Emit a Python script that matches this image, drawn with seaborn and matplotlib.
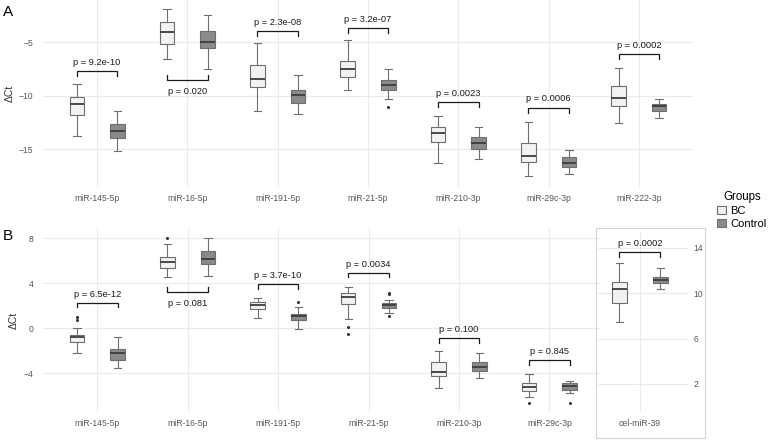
import numpy as np
import pandas as pd
import matplotlib
matplotlib.use("Agg")
import matplotlib.pyplot as plt
from matplotlib.patches import Rectangle
import seaborn as sns

# box summaries: (lower whisker, q1, median, q3, upper whisker)
mirs_a = ["miR-145-5p", "miR-16-5p", "miR-191-5p", "miR-21-5p", "miR-210-3p", "miR-29c-3p", "miR-222-3p"]
a_bc = [(-13.75, -11.8, -10.8, -10.1, -8.9), (-6.6, -5.2, -4.1, -3.16, -1.95),
        (-11.4, -9.2, -8.44, -7.14, -5.1), (-9.47, -8.3, -7.5, -6.8, -4.8),
        (-16.25, -14.3, -13.5, -12.95, -11.9), (-17.45, -16.2, -15.6, -14.44, -12.45),
        (-12.5, -11.0, -10.25, -9.07, -7.45)]
a_ctrl = [(-15.2, -13.9, -13.25, -12.6, -11.4), (-7.5, -5.55, -5.0, -4.0, -2.5),
          (-11.7, -10.65, -9.9, -9.47, -8.1), (-10.28, -9.47, -8.97, -8.56, -7.54),
          (-15.9, -14.94, -14.4, -13.85, -12.9), (-17.3, -16.6, -16.3, -15.7, -15.1),
          (-12.1, -11.4, -11.0, -10.8, -10.3)]
a_out = {("Control", "miR-21-5p"): ([-11.08], [])}
a_p = ["p = 9.2e-10", "p = 0.020", "p = 2.3e-08", "p = 3.2e-07", "p = 0.0023", "p = 0.0006", "p = 0.0002"]
a_bracket = [-7.67, -8.55, -3.97, -3.66, -10.6, -11.1, -6.14]
a_below = [False, True, False, False, False, False, False]

mirs_b = ["miR-145-5p", "miR-16-5p", "miR-191-5p", "miR-21-5p", "miR-210-3p", "miR-29c-3p"]
b_bc = [(-2.15, -1.22, -0.8, -0.57, 0.05), (4.52, 5.32, 5.85, 6.36, 7.48),
        (0.88, 1.68, 2.04, 2.36, 2.72), (0.83, 2.16, 2.8, 3.1, 3.64),
        (-5.33, -4.23, -3.85, -2.96, -2.01), (-6.07, -5.53, -5.18, -4.88, -4.06)]
b_ctrl = [(-3.5, -2.81, -2.16, -1.84, -0.8), (4.64, 5.68, 6.18, 6.89, 7.98),
          (-0.09, 0.7, 1.06, 1.3, 1.86), (1.35, 1.8, 2.07, 2.27, 2.51),
          (-4.44, -3.79, -3.4, -2.96, -2.16), (-5.77, -5.47, -5.12, -4.88, -4.65)]
b_out = {("BC", "miR-145-5p"): ([], [0.74, 1.03]), ("BC", "miR-16-5p"): ([], [8.0]),
         ("BC", "miR-21-5p"): ([-0.53, 0.09], []), ("BC", "miR-29c-3p"): ([-6.66], []),
         ("Control", "miR-191-5p"): ([], [2.36]), ("Control", "miR-21-5p"): ([1.05], [3.04, 3.16]),
         ("Control", "miR-29c-3p"): ([-6.6], [])}
b_p = ["p = 6.5e-12", "p = 0.081", "p = 3.7e-10", "p = 0.0034", "p = 0.100", "p = 0.845"]
b_bracket = [2.27, 3.25, 3.93, 4.93, -0.86, -2.81]
b_below = [False, True, False, False, False, False]

spike = ["cel-miR-39"]
spike_bc = [(7.5, 9.17, 10.4, 11.0, 12.7)]
spike_ctrl = [(10.35, 10.88, 11.17, 11.47, 12.2)]
spike_p = ["p = 0.0002"]
spike_bracket = [13.67]

groups = ["BC", "Control"]
pal = {"BC": "#f2f2f2", "Control": "#8a8a8a"}


def expand(stats, lo=(), hi=()):
    # 13 values whose quartiles and whiskers give back the read summary
    wl, q1, med, q3, wh = stats
    lo = sorted(lo)
    hi = sorted(hi)
    low = lo + [wl] * (3 - len(lo))
    up = [wh] * (3 - len(hi)) + hi
    return low + [q1, q1, med, med, med, q3, q3] + up


def frame(mirs, bc, ctrl, outs):
    rows = []
    for g, table in zip(groups, [bc, ctrl]):
        for m, st in zip(mirs, table):
            lo, hi = outs.get((g, m), ([], []))
            for v in expand(st, lo, hi):
                rows.append((m, g, v))
    return pd.DataFrame(rows, columns=["miRNA", "Groups", "dCt"])


df_a = frame(mirs_a, a_bc, a_ctrl, a_out)
df_b = frame(mirs_b, b_bc, b_ctrl, b_out)
df_s = frame(spike, spike_bc, spike_ctrl, {})

plt.rcParams["font.family"] = ["Liberation Sans", "DejaVu Sans"]

W, H = 771, 441
fig = plt.figure(figsize=(W / 100, H / 100), dpi=100)


def fax(x0, y0, x1, y1):
    return fig.add_axes([x0 / W, 1 - y1 / H, (x1 - x0) / W, (y1 - y0) / H])


ax_a = fax(43, 0, 693, 187)
ax_b = fax(43, 228, 600, 412)
ax_s = fax(598, 232, 688, 412)

box_kw = dict(x="miRNA", y="dCt", hue="Groups", hue_order=groups, palette=pal,
              width=0.9, gap=0.64, linecolor="#6e6e6e", linewidth=0.8,
              medianprops=dict(color="#3c3c3c", linewidth=1.3),
              flierprops=dict(marker="o", markersize=1.2, markerfacecolor="#333333",
                              markeredgecolor="#333333"))

sns.boxplot(data=df_a, ax=ax_a, legend=True, **box_kw)
sns.boxplot(data=df_b, ax=ax_b, legend=False, **box_kw)
sns.boxplot(data=df_s, ax=ax_s, legend=False, **box_kw)

handles, labels = ax_a.get_legend_handles_labels()
ax_a.get_legend().remove()
fig.legend(handles, labels, title="Groups", loc="upper left",
           bbox_to_anchor=(717 / W, 1 - 191 / H), frameon=False, fontsize=8,
           title_fontsize=8.3, handlelength=0.8, handleheight=0.7, handletextpad=0.4,
           labelspacing=0.25, borderaxespad=0, borderpad=0, alignment="center")


def style(ax, xlim, ylim, yticks, right=False):
    ax.set_xlim(*xlim)
    ax.set_ylim(*ylim)
    ax.set_yticks(yticks)
    ax.set_facecolor("none")
    for s in ax.spines.values():
        s.set_visible(False)
    ax.grid(True, color="#ebebeb", linewidth=0.8)
    ax.xaxis.grid(True)
    ax.set_axisbelow(True)
    ax.tick_params(length=0, labelsize=6.2, labelcolor="#555555")
    ax.tick_params(axis="x", pad=5)
    ax.tick_params(axis="y", pad=7)
    ax.set_xlabel("")
    if right:
        ax.yaxis.tick_right()
        ax.tick_params(axis="y", pad=4)
        ax.set_ylabel("")
    else:
        ax.set_ylabel("ΔCt", fontsize=7.5, color="#333333", labelpad=3)


style(ax_a, (-0.6, 6.6), (-18.51, -1.08), [-15, -10, -5])
style(ax_b, (-0.6, 5.56), (-7.43, 8.9), [-4, 0, 4, 8])
style(ax_s, (-0.46, 0.53), (-0.48, 15.41), [2, 6, 10, 14], right=True)


def brackets(ax, ys, texts, below, tick):
    for i, (y, t, b) in enumerate(zip(ys, texts, below)):
        x0, x1 = i - 0.225, i + 0.225
        d = tick if b else -tick
        ax.plot([x0, x0, x1, x1], [y + d, y, y, y + d], color="#1a1a1a", lw=0.9,
                solid_joinstyle="miter", zorder=5)
        ax.annotate(t, (i, y), xytext=(0, -5 if b else 3), textcoords="offset points",
                    ha="center", va="top" if b else "bottom", fontsize=6.7, color="#1a1a1a")


brackets(ax_a, a_bracket, a_p, a_below, 0.47)
brackets(ax_b, b_bracket, b_p, b_below, 0.42)
brackets(ax_s, spike_bracket, spike_p, [False], 0.44)

# bordered strip around the spike-in panel
fig.patches.append(Rectangle((596 / W, 1 - 438 / H), 109 / W, 210 / H, transform=fig.transFigure,
                             facecolor="none", edgecolor="#d4d4d4", linewidth=0.8))

fig.text(3 / W, 1 - 12 / H, "A", fontsize=11, va="center", ha="left")
fig.text(3 / W, 1 - 236 / H, "B", fontsize=11, va="center", ha="left")

fig.savefig("out.png", dpi=100)
